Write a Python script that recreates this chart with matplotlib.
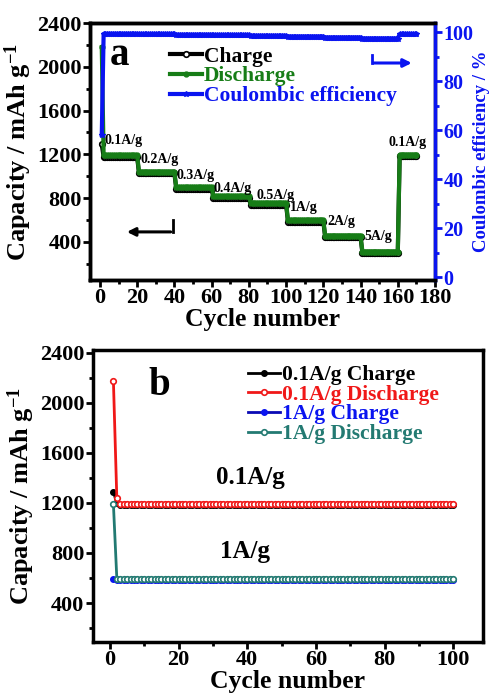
import matplotlib
matplotlib.use('Agg')
import matplotlib.pyplot as plt
import numpy as np

plt.rcParams['font.family'] = ['Liberation Serif', 'DejaVu Serif']
plt.rcParams['font.weight'] = 'bold'
plt.rcParams['axes.labelweight'] = 'bold'
plt.rcParams['mathtext.fontset'] = 'custom'
plt.rcParams['mathtext.rm'] = 'Liberation Serif:bold'
plt.rcParams['mathtext.bf'] = 'Liberation Serif:bold'
plt.rcParams['mathtext.it'] = 'Liberation Serif:bold'

# ---- panel a: rate test ----
rates = ['0.1A/g', '0.2A/g', '0.3A/g', '0.4A/g', '0.5A/g', '1A/g', '2A/g', '5A/g', '0.1A/g']
step_cycles = [19, 20, 20, 20, 20, 20, 20, 20, 10]   # cycles per step (first cycle separate)
dis_plateau = [1190, 1040, 900, 815, 755, 600, 455, 310, 1195]
chg_plateau = [1175, 1025, 885, 800, 740, 585, 440, 295, 1180]
ce_plateau = [99.3, 99.1, 98.9, 98.7, 98.5, 98.2, 97.8, 97.4, 99.2]
dis_first = 2180
chg_first = 1290
ce_first = 58

cyc_a = np.arange(1, 1 + 1 + sum(step_cycles))
dis_a = np.concatenate([[dis_first], np.repeat(dis_plateau, step_cycles)])
chg_a = np.concatenate([[chg_first], np.repeat(chg_plateau, step_cycles)])
ce_a = np.concatenate([[ce_first], np.repeat(ce_plateau, step_cycles)])

# label anchor for each step (cycle, capacity)
lab_x = [2.5, 22, 41, 61, 84, 102, 122, 142, 155]
lab_y = [1330, 1150, 1005, 885, 820, 710, 585, 445, 1305]

# ---- panel b: long cycling ----
n_b = 100
cyc_b = np.arange(1, n_b + 1)
c01_chg = np.concatenate([[1290, 1195], np.full(n_b - 2, 1180)])
c01_dis = np.concatenate([[2175, 1235], np.full(n_b - 2, 1190)])
c1_chg = np.concatenate([[590], np.full(n_b - 1, 585)])
c1_dis = np.concatenate([[1190], np.full(n_b - 1, 595)])

green = '#177d17'
blue = '#0a14f0'
teal = '#237a72'
red = '#f01818'

fig = plt.figure(figsize=(4.91, 7.0), dpi=100)
ax1 = fig.add_axes([0.183, 0.600, 0.703, 0.367])
ax2 = ax1.twinx()
axb = fig.add_axes([0.189, 0.083, 0.795, 0.417])

def style(ax, ls=16):
    for s in ax.spines.values():
        s.set_linewidth(2.5)
    ax.tick_params(which='major', direction='out', length=5, width=2, labelsize=ls, pad=1)
    ax.tick_params(which='minor', direction='out', length=3, width=2)
    for t in ax.get_xticklabels() + ax.get_yticklabels():
        t.set_fontweight('bold')

# panel a
l1, = ax1.plot(cyc_a, chg_a, '-o', color='black', lw=3, ms=4, mfc='white', mew=1.2, zorder=3)
l2, = ax1.plot(cyc_a, dis_a, '-o', color=green, lw=3, ms=3.5, mfc=green, mec=green, zorder=4)
l3, = ax2.plot(cyc_a, ce_a, '-*', color=blue, lw=3, ms=4, zorder=5)
ax1.set_xlim(-5.4, 180)
ax1.set_ylim(50, 2400)
ax2.set_ylim(-1.2, 103.7)
ax1.set_xticks(np.arange(0, 181, 20))
ax1.set_xticks(np.arange(10, 180, 20), minor=True)
ax1.set_yticks(np.arange(400, 2401, 400))
ax1.set_yticks(np.arange(200, 2400, 400), minor=True)
ax2.set_yticks(np.arange(0, 101, 20))
ax2.set_yticks(np.arange(10, 100, 20), minor=True)
style(ax1)
style(ax2, 14.5)
ax2.spines['right'].set_color(blue)
ax2.tick_params(axis='y', which='both', colors=blue)
for t in ax2.get_yticklabels():
    t.set_color(blue)
ax1.set_xlabel('Cycle number', fontsize=18.5, labelpad=0)
ax1.set_ylabel(r'Capacity / mAh g$^{-1}$', fontsize=19, labelpad=2)
ax2.set_ylabel('Coulombic efficiency / %', fontsize=13.5, color=blue, labelpad=0)

for r, x, y in zip(rates, lab_x, lab_y):
    ax1.text(x, y, r, fontsize=10, fontweight='bold', va='center', ha='left', zorder=6)

ax1.text(0.087, 0.875, 'a', transform=ax1.transAxes, fontsize=28, fontweight='bold',
         ha='center', va='center')
leg = ax1.legend([l1, l2, l3], ['Charge', 'Discharge', 'Coulombic efficiency'],
                 loc='upper left', bbox_to_anchor=(0.2, 0.95), frameon=False,
                 prop={'size': 15.5, 'weight': 'bold'}, labelspacing=-0.02,
                 handlelength=1.5, handletextpad=0.1, borderpad=0)
for t, c in zip(leg.get_texts(), ['black', green, blue]):
    t.set_color(c)

# arrows
ax1.plot([39, 39], [600, 490], color='black', lw=2)
ax1.annotate('', xy=(13, 490), xytext=(39.5, 490),
             arrowprops=dict(arrowstyle='-|>', color='black', lw=2.2, mutation_scale=12))
ax1.plot([146, 146], [2110, 2035], color=blue, lw=2)
ax1.annotate('', xy=(169, 2035), xytext=(145.5, 2035),
             arrowprops=dict(arrowstyle='-|>', color=blue, lw=2.2, mutation_scale=12))

# panel b
b1, = axb.plot(cyc_b, c01_chg, '-o', color='black', lw=2, ms=4, zorder=3)
b2, = axb.plot(cyc_b, c01_dis, '-o', color=red, lw=2, ms=4, mfc='white', mew=1.2, zorder=4)
b3, = axb.plot(cyc_b, c1_chg, '-o', color='#0a0ab4', lw=2, ms=4, mfc=blue, mec=blue, zorder=3)
b4, = axb.plot(cyc_b, c1_dis, '-o', color=teal, lw=2, ms=4, mfc='white', mew=1.2, zorder=4)
axb.set_xlim(-5, 108.7)
axb.set_ylim(90, 2420)
axb.set_xticks(np.arange(0, 101, 20))
axb.set_xticks(np.arange(10, 101, 20), minor=True)
axb.set_yticks(np.arange(400, 2401, 400))
axb.set_yticks(np.arange(200, 2400, 400), minor=True)
style(axb)
axb.set_xlabel('Cycle number', fontsize=18.5, labelpad=0)
axb.set_ylabel(r'Capacity / mAh g$^{-1}$', fontsize=19, labelpad=2)
axb.text(0.17, 0.88, 'b', transform=axb.transAxes, fontsize=28, fontweight='bold',
         ha='center', va='center')
axb.text(40.8, 1400, '0.1A/g', fontsize=18, fontweight='bold', ha='center', va='center')
axb.text(39.4, 808, '1A/g', fontsize=18, fontweight='bold', ha='center', va='center')
legb = axb.legend([b1, b2, b3, b4],
                  ['0.1A/g Charge', '0.1A/g Discharge', '1A/g Charge', '1A/g Discharge'],
                  loc='upper left', bbox_to_anchor=(0.37, 0.985), frameon=False,
                  prop={'size': 15.5, 'weight': 'bold'}, labelspacing=-0.02,
                  handlelength=1.5, handletextpad=0.1, borderpad=0)
for t, c in zip(legb.get_texts(), ['black', red, blue, teal]):
    t.set_color(c)

fig.savefig('out.png', dpi=100)
